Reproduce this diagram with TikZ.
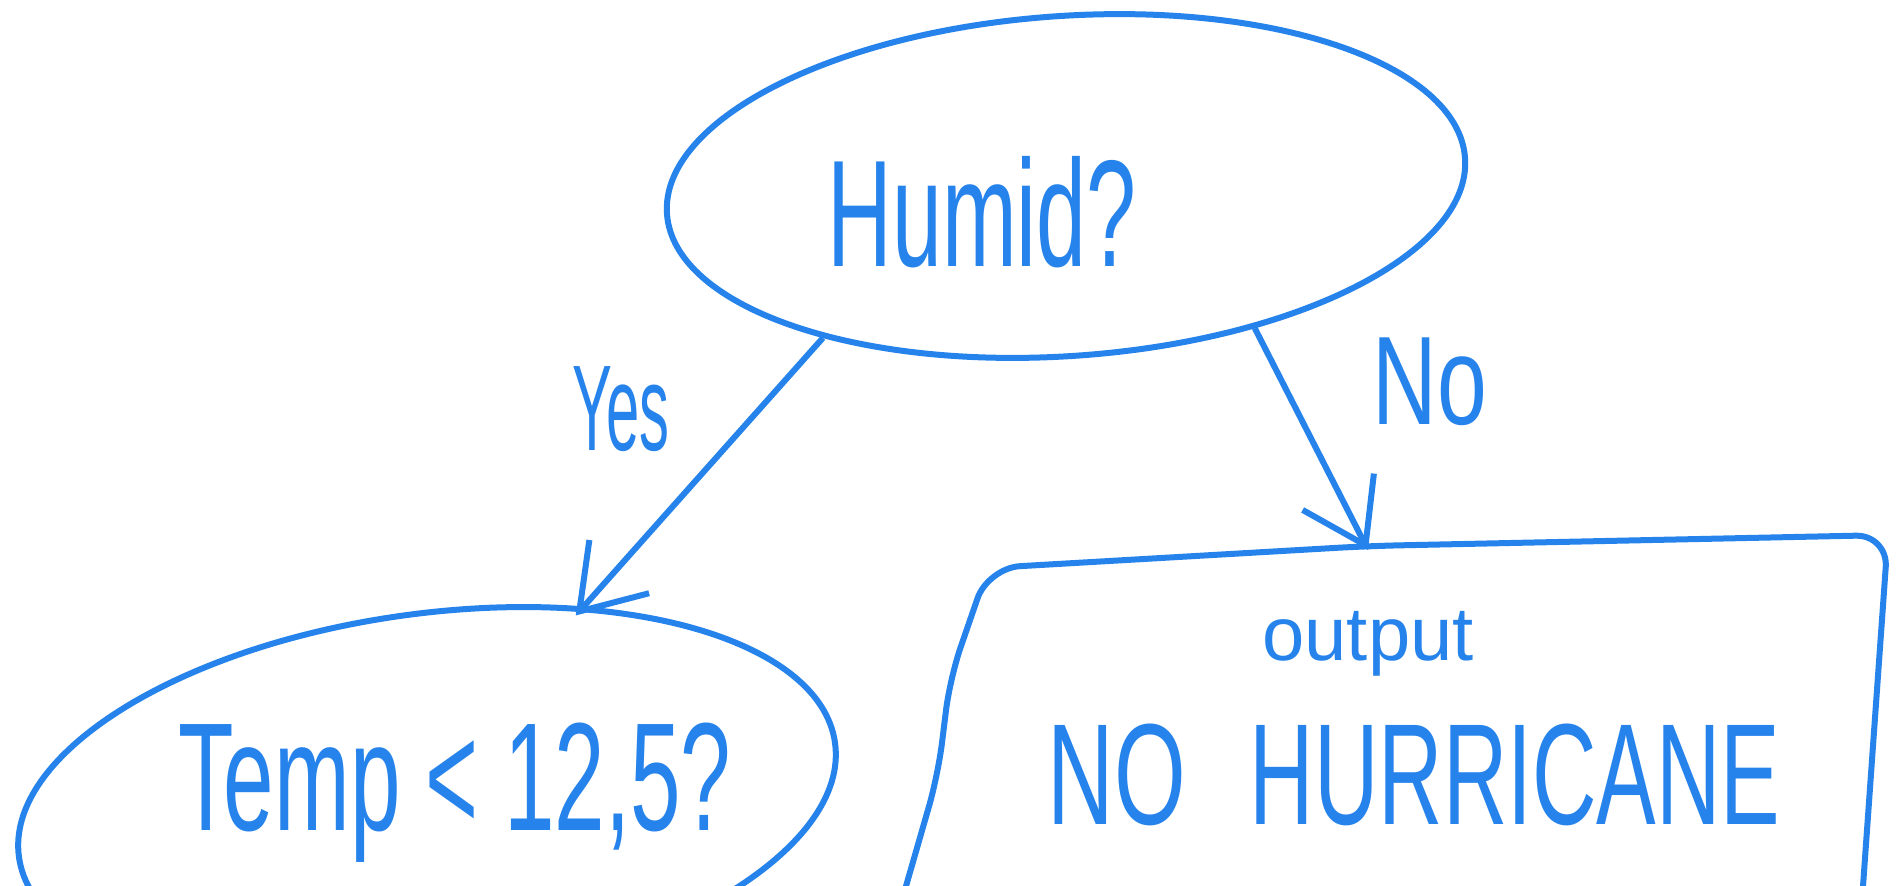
\documentclass[tikz,border=0pt]{standalone}
\usepackage{fontspec}
\setmainfont{Liberation Sans}
\usetikzlibrary{arrows.meta,shapes.geometric}
\definecolor{ink}{RGB}{38,131,235}
\newcommand{\hand}[2]{\scalebox{#1}[1]{#2}}

\begin{document}
\begin{tikzpicture}[x=0.5pt,y=-0.5pt,
    every node/.style={text=ink},
    bubble/.style={ellipse,draw=ink,line width=3pt,inner sep=0pt},
    arr/.style={draw=ink,line width=3pt,
      -{Straight Barb[length=30pt,width=40pt,line width=3pt]}},
    ]
  \useasboundingbox (0,0) rectangle (1898,885);
  \clip (0,0) rectangle (1898,885);
  % questions
  \node[bubble,rotate=4,minimum width=400pt,minimum height=170pt] (humid) at (1066,186) {};
  \node[anchor=base,font=\fontsize{76}{80}\selectfont] (humidq) at (982,266) {\hand{0.59}{Humid?}};
  \node[bubble,rotate=8,minimum width=412pt,minimum height=186pt] (temp) at (427,800) {};
  \node[anchor=base,font=\fontsize{77}{80}\selectfont] (tempq) at (455,830) {\hand{0.59}{Temp < 12,5?}};
  % output box
  \draw[ink,line width=3pt,rounded corners=16pt]
    (902,900) -- (938,775) -- (950,678) -- (988,568) -- (1368,546) -- (1888,535) -- (1862,900);
  \coordinate (outtop) at (1368,550);
  \node[anchor=base,font=\fontsize{38}{40}\selectfont] (outlbl) at (1368,660) {output};
  \node[anchor=base,font=\fontsize{72}{76}\selectfont] (result) at (1414,824)
    {\hand{0.64}{NO}\hspace{32pt}\hand{0.62}{HURRICANE}};
  % branches
  \draw[arr,shorten >=-6pt] (humid.208) -- (temp.43);
  \draw[arr] (humid.319) -- (outtop);
  \node[anchor=base,font=\fontsize{61}{64}\selectfont] (yes) at (621,450) {\hand{0.49}{Yes}};
  \node[anchor=base,font=\fontsize{63}{66}\selectfont] (no) at (1430,424) {\hand{0.71}{No}};
\end{tikzpicture}
\end{document}
